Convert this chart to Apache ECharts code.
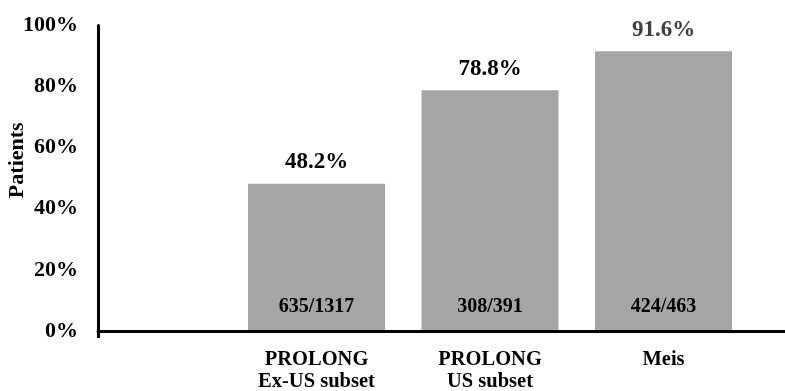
<!DOCTYPE html>
<html>
<head>
<meta charset="utf-8">
<script src="https://cdn.jsdelivr.net/npm/echarts@6/dist/echarts.min.js"></script>
<style>
  html, body { margin: 0; padding: 0; background: #ffffff; }
  #chart { width: 785px; height: 391px; }
</style>
</head>
<body>
<div id="chart"></div>
<script>
// Share of patients per study group
const categories = ['PROLONG\nEx-US subset', 'PROLONG\nUS subset', 'Meis'];
const rates = [48.2, 78.8, 91.6];          // percent of patients
const counts = ['635/1317', '308/391', '424/463'];
const yMin = 0, yMax = 100, yStep = 20;

const FONT = "'Liberation Serif', 'Times New Roman', serif";
const BAR_COLOR = '#a5a5a5';

const chart = echarts.init(document.getElementById('chart'), null, { renderer: 'canvas' });

const plotTop = 25.5, plotBottom = 60;

chart.setOption({
  animation: false,
  backgroundColor: '#ffffff',
  grid: [
    // bars
    { left: 229.75, right: 34.75, top: plotTop, bottom: plotBottom,
      containLabel: false, outerBoundsMode: 'none' },
    // axis frame
    { left: 98, right: 0, top: plotTop, bottom: plotBottom,
      containLabel: false, outerBoundsMode: 'none' }
  ],
  xAxis: [
    {
      type: 'category',
      gridIndex: 0,
      data: categories,
      axisLine: { show: false },
      axisTick: { show: false },
      axisLabel: {
        margin: 18,
        color: '#000',
        fontFamily: FONT,
        fontWeight: 'bold',
        fontSize: 20.5,
        lineHeight: 22
      }
    },
    {
      type: 'value',
      gridIndex: 1,
      min: 0,
      max: 1,
      z: 5,
      axisLabel: { show: false },
      splitLine: { show: false },
      axisLine: { show: true, lineStyle: { color: '#000', width: 3 } },
      axisTick: {
        show: true,
        customValues: [0],
        length: 7,
        lineStyle: { color: '#000', width: 3 }
      }
    }
  ],
  yAxis: [
    {
      type: 'value',
      gridIndex: 0,
      min: yMin,
      max: yMax,
      interval: yStep,
      show: false
    },
    {
      type: 'value',
      gridIndex: 1,
      min: yMin,
      max: yMax,
      interval: yStep,
      z: 5,
      name: 'Patients',
      nameLocation: 'middle',
      nameGap: 70,
      nameMoveOverlap: false,
      nameRotate: 90,
      nameTextStyle: {
        color: '#000',
        fontFamily: FONT,
        fontWeight: 'bold',
        fontSize: 22,
        padding: [0, 0, 0, 36]
      },
      splitLine: { show: false },
      axisTick: { show: false },
      axisLine: { show: true, lineStyle: { color: '#000', width: 3 } },
      axisLabel: {
        margin: 20,
        color: '#000',
        fontFamily: FONT,
        fontWeight: 'bold',
        fontSize: 22,
        formatter: '{value}%'
      }
    }
  ],
  series: [
    {
      type: 'bar',
      xAxisIndex: 0,
      yAxisIndex: 0,
      barWidth: 137,
      z: 2,
      itemStyle: { color: BAR_COLOR },
      data: rates.map((v, i) => i === 2
        ? { value: v, label: { color: '#404040' } }
        : v),
      label: {
        show: true,
        position: 'top',
        distance: 10,
        color: '#000',
        fontFamily: FONT,
        fontWeight: 'bold',
        fontSize: 23,
        formatter: p => p.value.toFixed(1) + '%'
      }
    },
    {
      // patient counts written at the foot of each bar
      type: 'bar',
      xAxisIndex: 0,
      yAxisIndex: 0,
      barWidth: 137,
      barGap: '-100%',
      z: 3,
      itemStyle: { color: 'rgba(0,0,0,0)' },
      data: rates,
      label: {
        show: true,
        position: 'insideBottom',
        distance: 14,
        color: '#000',
        fontFamily: FONT,
        fontWeight: 'bold',
        fontSize: 20,
        formatter: p => counts[p.dataIndex]
      },
      silent: true
    }
  ]
});
</script>
</body>
</html>
